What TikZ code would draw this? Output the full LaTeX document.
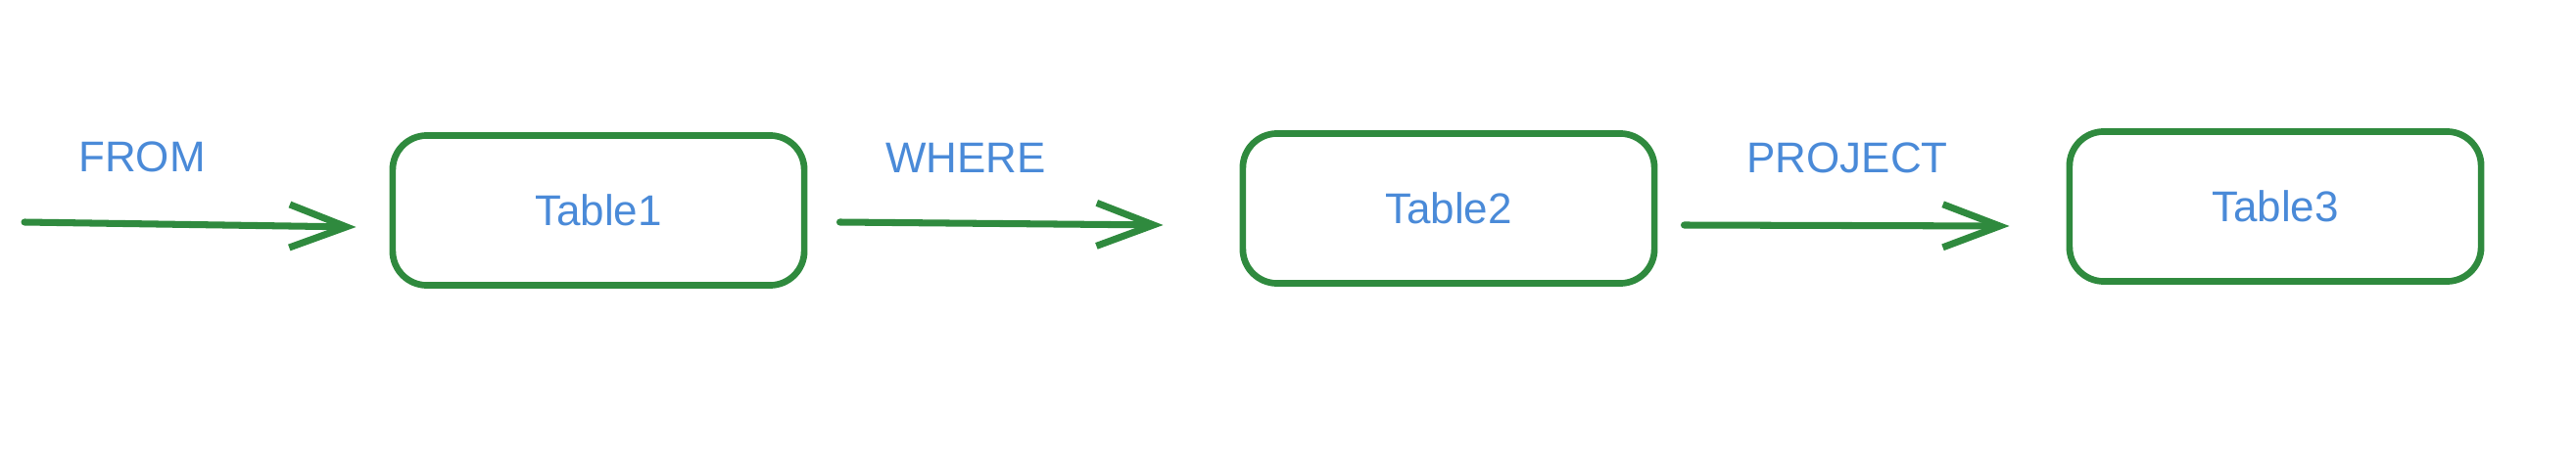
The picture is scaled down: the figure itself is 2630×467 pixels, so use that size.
\documentclass[tikz,border=0pt]{standalone}
\usepackage{fontspec}
\setmainfont{Liberation Sans}
\usetikzlibrary{arrows.meta}
\definecolor{edgegreen}{HTML}{2F8A3E}
\definecolor{textblue}{HTML}{4A8AD8}
\begin{document}
\begin{tikzpicture}[x=0.01cm,y=-0.01cm,
  tablebox/.style={draw=edgegreen, line width=1.9pt, rounded corners=0.35cm,
    minimum width=4.2cm, minimum height=1.53cm, text=textblue,
    font=\fontsize{12.5}{14}\selectfont},
  oplabel/.style={text=textblue, font=\fontsize{12.5}{15}\selectfont},
  flow/.style={draw=edgegreen, line width=2pt, line cap=round,
    -{Straight Barb[length=0.58cm,width=0.44cm,line join=miter]}}]
  \useasboundingbox (0,0) rectangle (2630,467);
  \node[tablebox] (b1) at (611,215) {Table1};
  \node[tablebox] (b2) at (1479,213) {Table2};
  \node[tablebox] (b3) at (2323,211) {Table3};
  \coordinate (start) at (25,227);
  \node[oplabel] (lfrom) at (145,160) {FROM};
  \node[oplabel] (lwhere) at (986,161) {WHERE};
  \node[oplabel] (lproject) at (1886,161) {PROJECT};
  \draw[flow] (start) -- ([shift={(-34,17)}]b1.west);
  \draw[flow] ([shift={(33,12)}]b1.east) -- ([shift={(-78,17)}]b2.west);
  \draw[flow] ([shift={(27,17)}]b2.east) -- ([shift={(-58,20)}]b3.west);
\end{tikzpicture}
\end{document}
